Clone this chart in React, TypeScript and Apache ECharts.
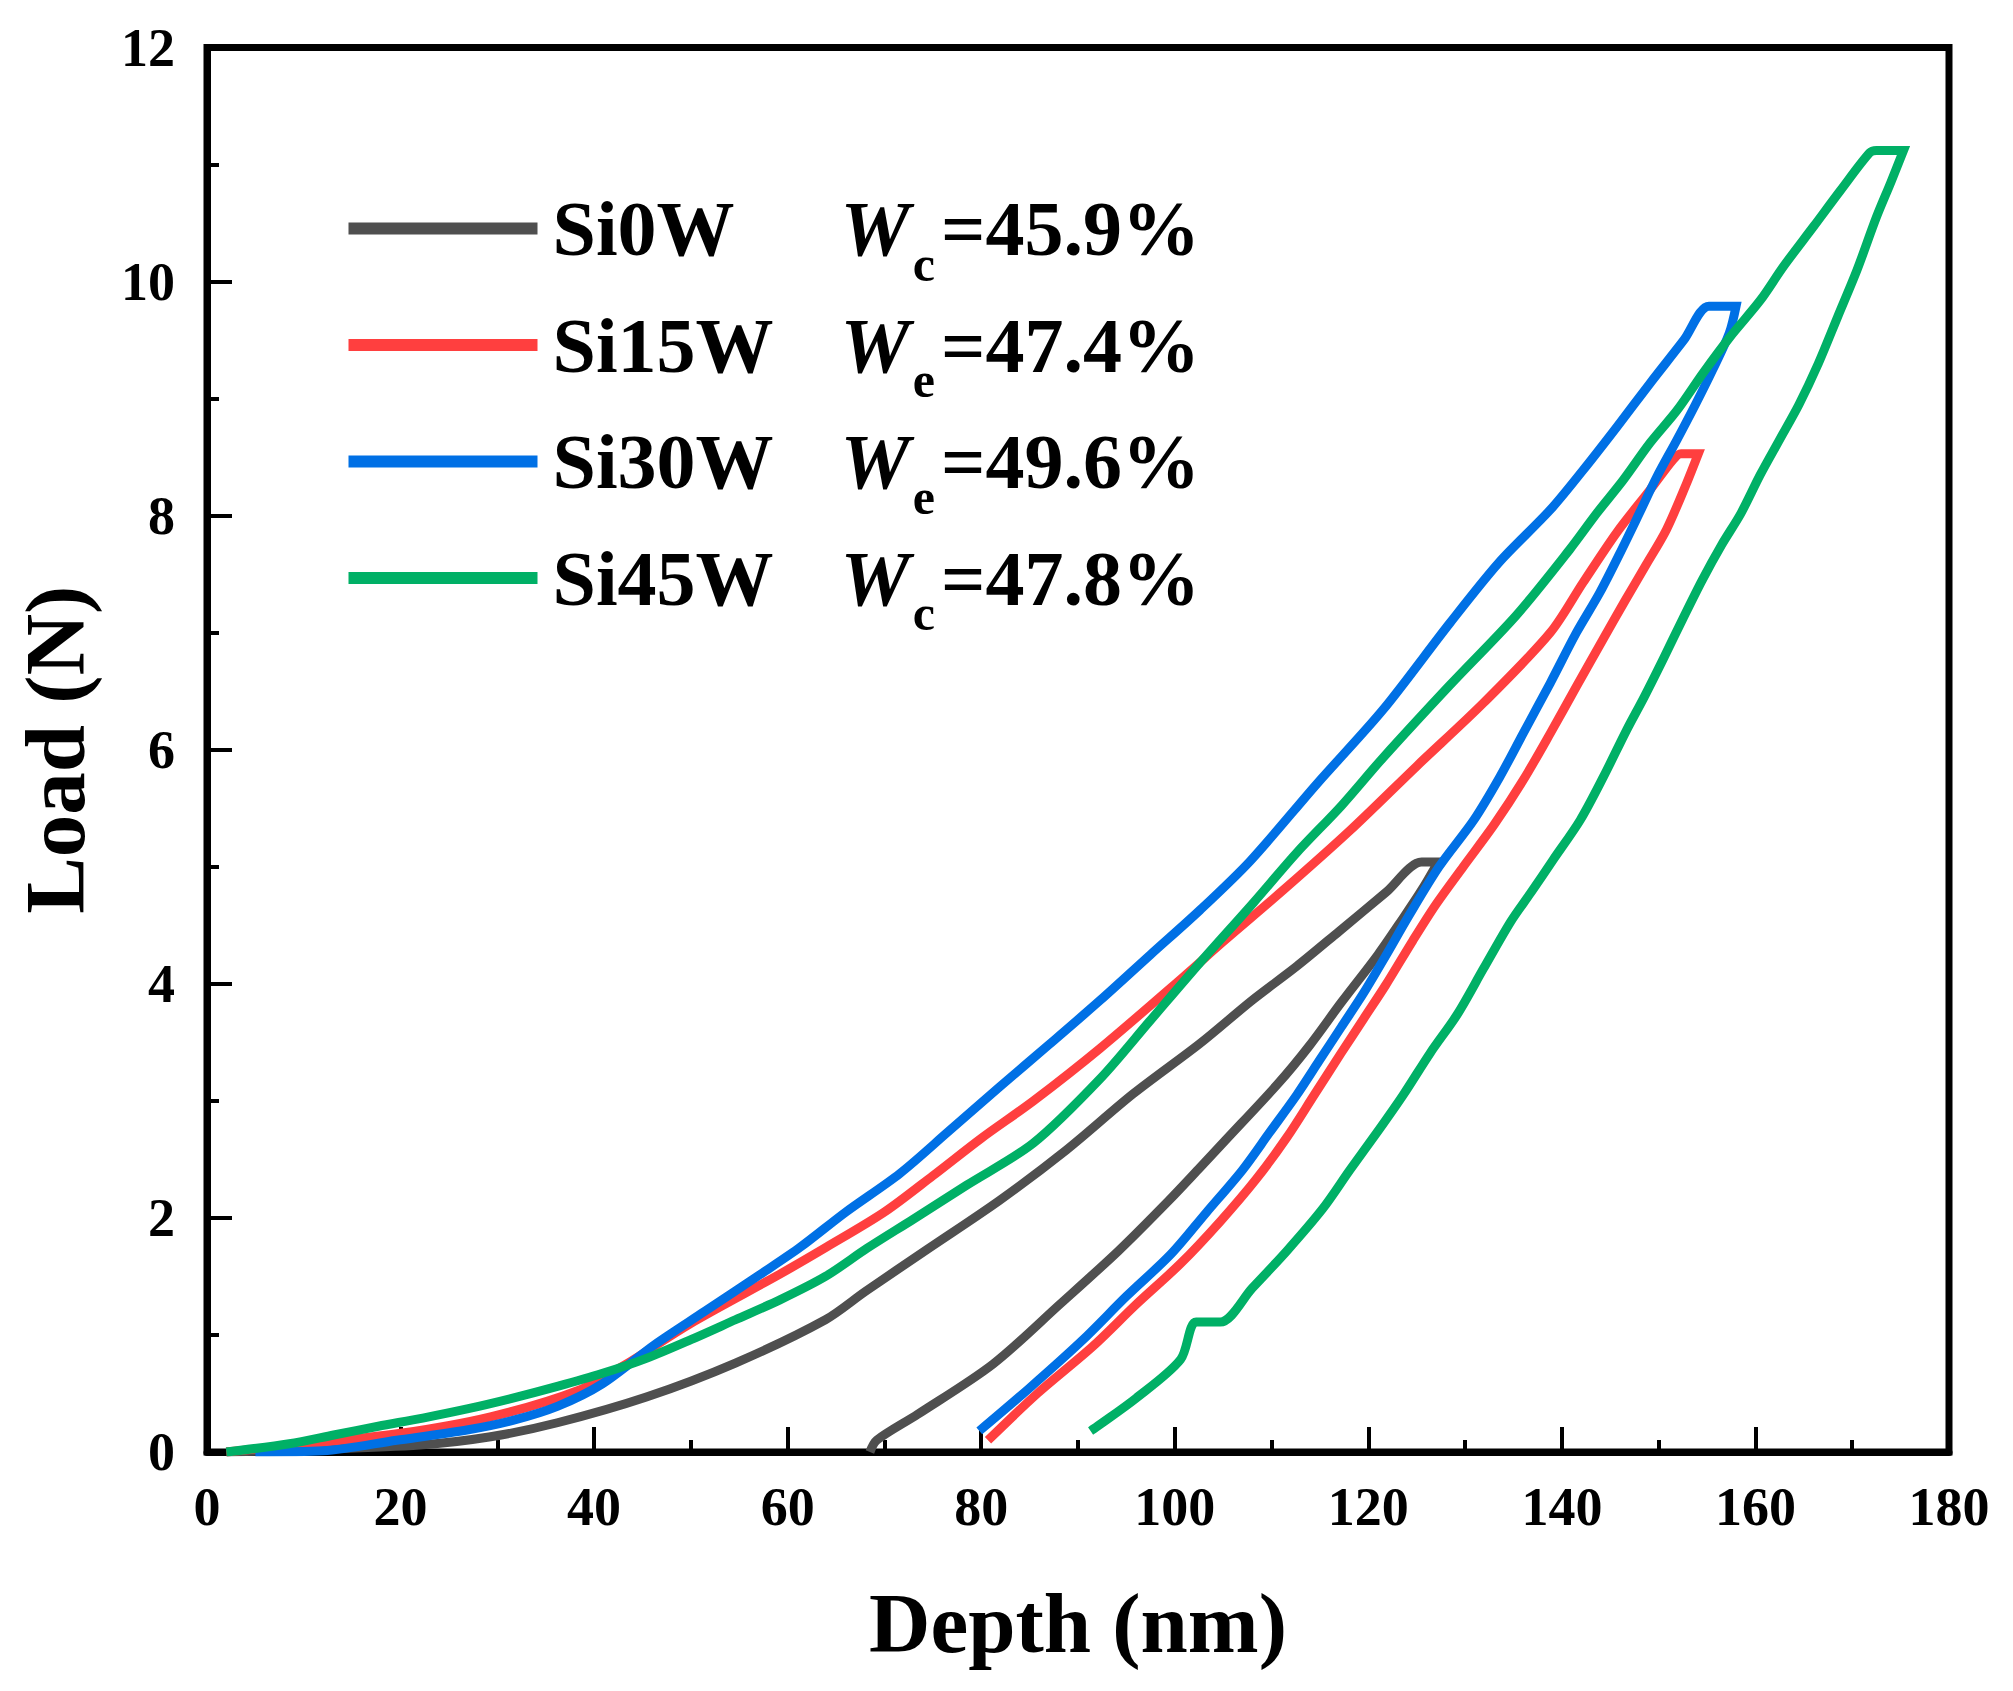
import React, { useEffect, useRef } from "react";
import * as echarts from "echarts";

// ---- data (depth nm, load N) ----
const sampleNames = ["Si0W", "Si15W", "Si30W", "Si45W"];
const weValues = ["=45.9%", "=47.4%", "=49.6%", "=47.8%"];
const weSubs = ["c", "e", "e", "c"];
const seriesColors = ["#4F4F4F", "#FF3F3F", "#0070E5", "#00B066"];

const si0wLoading = [[2,0],[10,0.02],[22,0.06],[29.3,0.13],[36.2,0.25],[45.4,0.47],[54.6,0.76],[63.9,1.13],[68,1.37],[74.4,1.73],[81.9,2.15],[88.8,2.58],[95.7,3.06],[102.6,3.49],[108,3.86],[112.6,4.15],[117,4.45],[121.8,4.78],[125.5,5.04]];
const si0wUnloading = [[127.2,5.04],[125.5,4.8],[123.5,4.55],[121,4.25],[117.2,3.84],[113.9,3.47],[110.7,3.15],[105.2,2.66],[102.6,2.43],[99.4,2.15],[94.2,1.72],[88.1,1.26],[81.2,0.75],[73.4,0.32],[69.2,0.1],[68.5,0]];

const si15wLoading = [[2,0],[8,0.05],[20,0.16],[29.3,0.3],[38.5,0.53],[43.1,0.74],[50,1.1],[59.2,1.52],[64,1.75],[70,2.05],[75,2.36],[80,2.68],[85.4,3.0],[92.3,3.45],[100.9,4.06],[105,4.36],[111.2,4.8],[118.1,5.31],[125,5.86],[131.9,6.4],[138.8,7.0],[142.2,7.43],[145.7,7.86],[149.1,8.22],[151.5,8.48],[152.3,8.53]];
const si15wUnloading = [[154.1,8.53],[152.9,8.28],[150.8,7.88],[148.7,7.58],[146.5,7.27],[144.3,6.95],[141.5,6.54],[138.8,6.14],[136,5.74],[133,5.36],[129.8,5.0],[127,4.68],[124.6,4.37],[121.8,3.99],[119.5,3.7],[117.2,3.41],[114.4,3.05],[111.6,2.69],[108.4,2.33],[104.7,1.97],[100.6,1.61],[96,1.26],[91.5,0.9],[85.8,0.5],[80.7,0.1]];

const si30wLoading = [[5,0],[12,0.01],[19.6,0.1],[27,0.19],[31.6,0.27],[36.2,0.39],[40.8,0.58],[46.3,0.92],[51.4,1.2],[57.4,1.53],[61.3,1.75],[66,2.05],[71.6,2.38],[76.5,2.73],[81.9,3.12],[87,3.48],[92.3,3.86],[97.5,4.25],[102.6,4.63],[107.8,5.05],[114.7,5.71],[121.5,6.34],[128.4,7.08],[133.5,7.6],[138.8,8.05],[142.2,8.39],[145.7,8.76],[149.1,9.13],[152.6,9.5],[155.2,9.79]];
const si30wUnloading = [[158,9.79],[157.3,9.56],[155.6,9.25],[153.8,8.95],[151.9,8.65],[149.8,8.33],[148,8.02],[146,7.68],[143.9,7.34],[141.5,7.0],[138.8,6.57],[136,6.14],[133.6,5.77],[130.9,5.4],[127.3,5.0],[124.1,4.57],[121.8,4.24],[119.5,3.92],[117.2,3.63],[114.9,3.34],[112.6,3.05],[109.8,2.73],[107,2.41],[103.3,2.05],[99.6,1.69],[95,1.33],[90.4,0.95],[84.9,0.54],[79.8,0.18]];

const si45wLoading = [[2,0],[8.5,0.07],[13.1,0.145],[17.7,0.22],[22.3,0.29],[27,0.37],[31.6,0.46],[36.2,0.56],[40.8,0.67],[45.4,0.8],[50,0.96],[54.6,1.13],[59.2,1.3],[63.9,1.5],[68.2,1.74],[73,1.99],[78.5,2.28],[85.4,2.64],[92.3,3.19],[97.4,3.68],[102.6,4.18],[108.2,4.7],[112.6,5.12],[117.2,5.52],[121.5,5.93],[128.4,6.55],[135.3,7.15],[140.8,7.71],[143.6,8.02],[146.3,8.3],[149.1,8.62],[151.9,8.9],[154.6,9.22],[157.4,9.53],[160.5,9.84],[162.9,10.13],[166,10.47],[168.8,10.78],[171.8,11.1],[172.5,11.12]];
const si45wUnloading = [[175.3,11.12],[174,10.85],[172.5,10.55],[170.5,10.1],[168.5,9.7],[166.5,9.3],[164.5,8.95],[162.5,8.65],[160.5,8.35],[158.5,8.02],[156.5,7.75],[154.5,7.45],[152.5,7.12],[150.5,6.78],[148.5,6.45],[146.7,6.17],[144.3,5.77],[141.9,5.4],[139.1,5.06],[136.8,4.78],[134.7,4.53],[131.9,4.13],[129.2,3.74],[126.4,3.41],[123.6,3.05],[120.9,2.73],[118.1,2.41],[115.3,2.08],[111.6,1.72],[108,1.4],[104.7,1.11],[102.2,1.11],[100.6,0.79],[96,0.46],[91.3,0.18]];

const curves = [
  [...si0wLoading, ...si0wUnloading],
  [...si15wLoading, ...si15wUnloading],
  [...si30wLoading, ...si30wUnloading],
  [...si45wLoading, ...si45wUnloading],
];

const FONT = "'Liberation Serif', 'Times New Roman', serif";

export default function App() {
  const ref = useRef<HTMLDivElement>(null);
  useEffect(() => {
    const chart = echarts.init(ref.current!, null, { renderer: "svg" });
    const tickStyle = { color: "#000", width: 4 };
    const commonAxis = {
      type: "value",
      nameLocation: "middle",
      nameMoveOverlap: false,
      nameTextStyle: { fontFamily: FONT, fontWeight: "bold", fontSize: 85, color: "#000" },
      axisLine: { show: true, onZero: false, lineStyle: { color: "#000", width: 7 } },
      axisTick: { show: true, inside: true, length: 25, lineStyle: tickStyle },
      minorTick: { show: true, splitNumber: 2, length: 12, lineStyle: tickStyle },
      splitLine: { show: false },
      minorSplitLine: { show: false },
      axisLabel: { fontFamily: FONT, fontWeight: "bold", fontSize: 54, color: "#000" },
    };
    chart.setOption({
      animation: false,
      backgroundColor: "#fff",
      grid: {
        left: 207, right: 64, top: 47.5, bottom: 239,
        show: true, borderColor: "#000", borderWidth: 7,
        outerBoundsMode: "none",
      },
      xAxis: {
        ...commonAxis,
        min: 0, max: 180, interval: 20,
        name: "Depth (nm)", nameGap: 128,
        axisLabel: { ...commonAxis.axisLabel, margin: 28 },
      },
      yAxis: {
        ...commonAxis,
        min: 0, max: 12, interval: 2,
        name: "Load (N)", nameGap: 110, nameRotate: 90,
        axisLabel: { ...commonAxis.axisLabel, margin: 32 },
      },
      legend: {
        orient: "vertical",
        left: 348.5, top: 168.5, padding: 0,
        itemWidth: 189, itemHeight: 12, itemGap: -3.5,
        icon: "rect",
        selectedMode: false,
        data: sampleNames,
        formatter: (name: string) => {
          const i = sampleNames.indexOf(name);
          return `{n|${name}}{w|W}{s|${weSubs[i]}}{p|${weValues[i]}}`;
        },
        textStyle: {
          rich: {
            n: { fontFamily: FONT, fontWeight: "bold", fontSize: 78, color: "#000", lineHeight: 90, width: 288, padding: [0, 0, 0, 10] },
            w: { fontFamily: FONT, fontWeight: "bold", fontStyle: "italic", fontSize: 78, color: "#000", lineHeight: 90 },
            s: { fontFamily: FONT, fontWeight: "bold", fontSize: 50, color: "#000", lineHeight: 20, padding: [70, 6, 0, 3] },
            p: { fontFamily: FONT, fontWeight: "bold", fontSize: 78, color: "#000", lineHeight: 90 },
          },
        },
      },
      series: sampleNames.map((name, i) => ({
        name,
        type: "line",
        data: curves[i],
        showSymbol: false,
        symbol: "none",
        smooth: 0.3,
        itemStyle: { color: seriesColors[i] },
        lineStyle: { color: seriesColors[i], width: 9, join: "miter" },
        z: 2 + i,
      })),
    });
    return () => chart.dispose();
  }, []);
  return (
    <div
      ref={ref}
      style={{ position: "fixed", left: 0, top: 0, width: 2013, height: 1691, background: "#fff" }}
    />
  );
}
